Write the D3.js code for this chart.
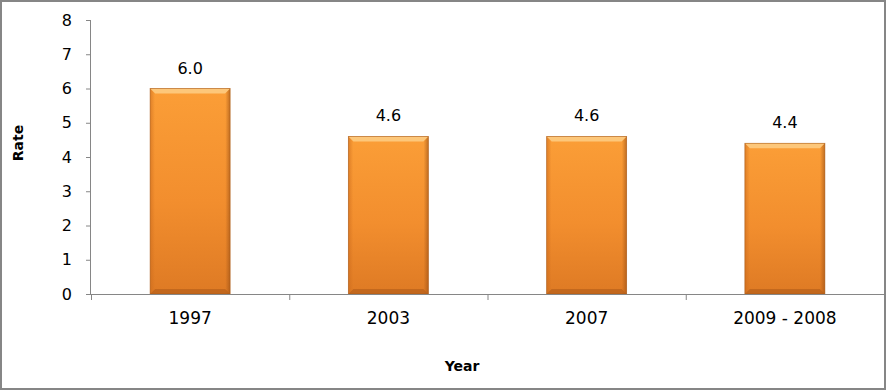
<!DOCTYPE html>
<html><head><meta charset="utf-8">
<script src="https://cdn.jsdelivr.net/npm/d3@7"></script>
<style>body{margin:0;background:#fff}svg{display:block}</style>
</head><body>
<script>
const categories = ["1997", "2003", "2007", "2009 - 2008"];
const values = [6.0, 4.6, 4.6, 4.4];
const yTicks = [0, 1, 2, 3, 4, 5, 6, 7, 8];

const W = 886, H = 390;
const m = {left: 91, right: 2, top: 20, bottom: 96};
const svg = d3.select("body").append("svg").attr("width", W).attr("height", H);

const defs = svg.append("defs");
const g1 = defs.append("linearGradient").attr("id", "barGrad").attr("x1", 0).attr("y1", 0).attr("x2", 0).attr("y2", 1);
g1.append("stop").attr("offset", "0%").attr("stop-color", "#FB9E37");
g1.append("stop").attr("offset", "55%").attr("stop-color", "#F28E2E");
g1.append("stop").attr("offset", "100%").attr("stop-color", "#DE7A24");
const g2 = defs.append("linearGradient").attr("id", "sideGrad").attr("x1", 0).attr("y1", 0).attr("x2", 1).attr("y2", 0);
g2.append("stop").attr("offset", "0%").attr("stop-color", "#C9691C").attr("stop-opacity", 0.55);
g2.append("stop").attr("offset", "6%").attr("stop-color", "#C9691C").attr("stop-opacity", 0);
g2.append("stop").attr("offset", "94%").attr("stop-color", "#9A4F14").attr("stop-opacity", 0);
g2.append("stop").attr("offset", "100%").attr("stop-color", "#9A4F14").attr("stop-opacity", 0.6);

// outer border
svg.append("rect").attr("x", 1).attr("y", 1).attr("width", W - 2).attr("height", H - 2)
  .attr("fill", "#fff").attr("stroke", "#868686").attr("stroke-width", 2);

const x = d3.scaleBand().domain(categories).range([m.left, W - m.right]).paddingInner(0).paddingOuter(0);
const y = d3.scaleLinear().domain([0, 8]).range([H - m.bottom, m.top]);

const font = "'DejaVu Sans', Verdana, sans-serif";

// y axis
const yAxis = svg.append("g").attr("transform", `translate(${m.left},0)`)
  .call(d3.axisLeft(y).tickValues(yTicks).tickSize(5).tickPadding(14).tickFormat(d3.format("d")));
yAxis.select(".domain").attr("stroke", "#868686").attr("d", `M-0.5,${y(8)}V${y(0)}`);
yAxis.selectAll(".tick line").attr("stroke", "#868686");
yAxis.selectAll("text").attr("font-family", font).attr("font-size", 16).attr("fill", "#000");

// bars
const barW = 80;
const bars = svg.append("g").selectAll("g").data(values).join("g")
  .attr("transform", (d, i) => `translate(${x(categories[i]) + x.bandwidth() / 2 - barW / 2},${y(d)})`);
bars.append("rect").attr("width", barW).attr("height", d => y(0) - y(d)).attr("fill", "url(#barGrad)");
bars.append("rect").attr("width", barW).attr("height", d => y(0) - y(d)).attr("fill", "url(#sideGrad)");
// top bevel
bars.append("path").attr("d", `M0,0H${barW}L${barW - 5},5H5Z`).attr("fill", "#FDC77A");
// bottom bevel
bars.append("path").attr("d", d => { const h = y(0) - y(d); return `M0,${h}H${barW}L${barW - 5},${h - 5}H5Z`; })
  .attr("fill", "#B9621B").attr("opacity", 0.75);
bars.append("rect").attr("width", barW).attr("height", d => y(0) - y(d))
  .attr("fill", "none").attr("stroke", "#A85A18").attr("stroke-width", 0.8).attr("opacity", 0.7);

// x axis
const xAxis = svg.append("g").attr("transform", `translate(0,${y(0)})`)
  .call(d3.axisBottom(x).tickSize(0).tickPadding(18));
xAxis.select(".domain").attr("stroke", "#868686");
xAxis.selectAll("text").attr("font-family", font).attr("font-size", 17).attr("fill", "#000");
xAxis.selectAll(".bound").data(categories).join("line").attr("class", "bound")
  .attr("x1", d => x(d) + 0.5).attr("x2", d => x(d) + 0.5).attr("y1", 0).attr("y2", 6).attr("stroke", "#868686");

// value labels
svg.append("g").selectAll("text").data(values).join("text")
  .attr("x", (d, i) => x(categories[i]) + x.bandwidth() / 2)
  .attr("y", d => y(d) - 15)
  .attr("text-anchor", "middle").attr("font-family", font).attr("font-size", 16).attr("fill", "#000")
  .text(d => d3.format(".1f")(d));

// axis titles
svg.append("text").attr("transform", `translate(23,143) rotate(-90)`)
  .attr("text-anchor", "middle").attr("font-family", font).attr("font-size", 14).attr("font-weight", "bold").text("Rate");
svg.append("text").attr("x", 462).attr("y", 371)
  .attr("text-anchor", "middle").attr("font-family", font).attr("font-size", 14).attr("font-weight", "bold").text("Year");
</script>
</body></html>
